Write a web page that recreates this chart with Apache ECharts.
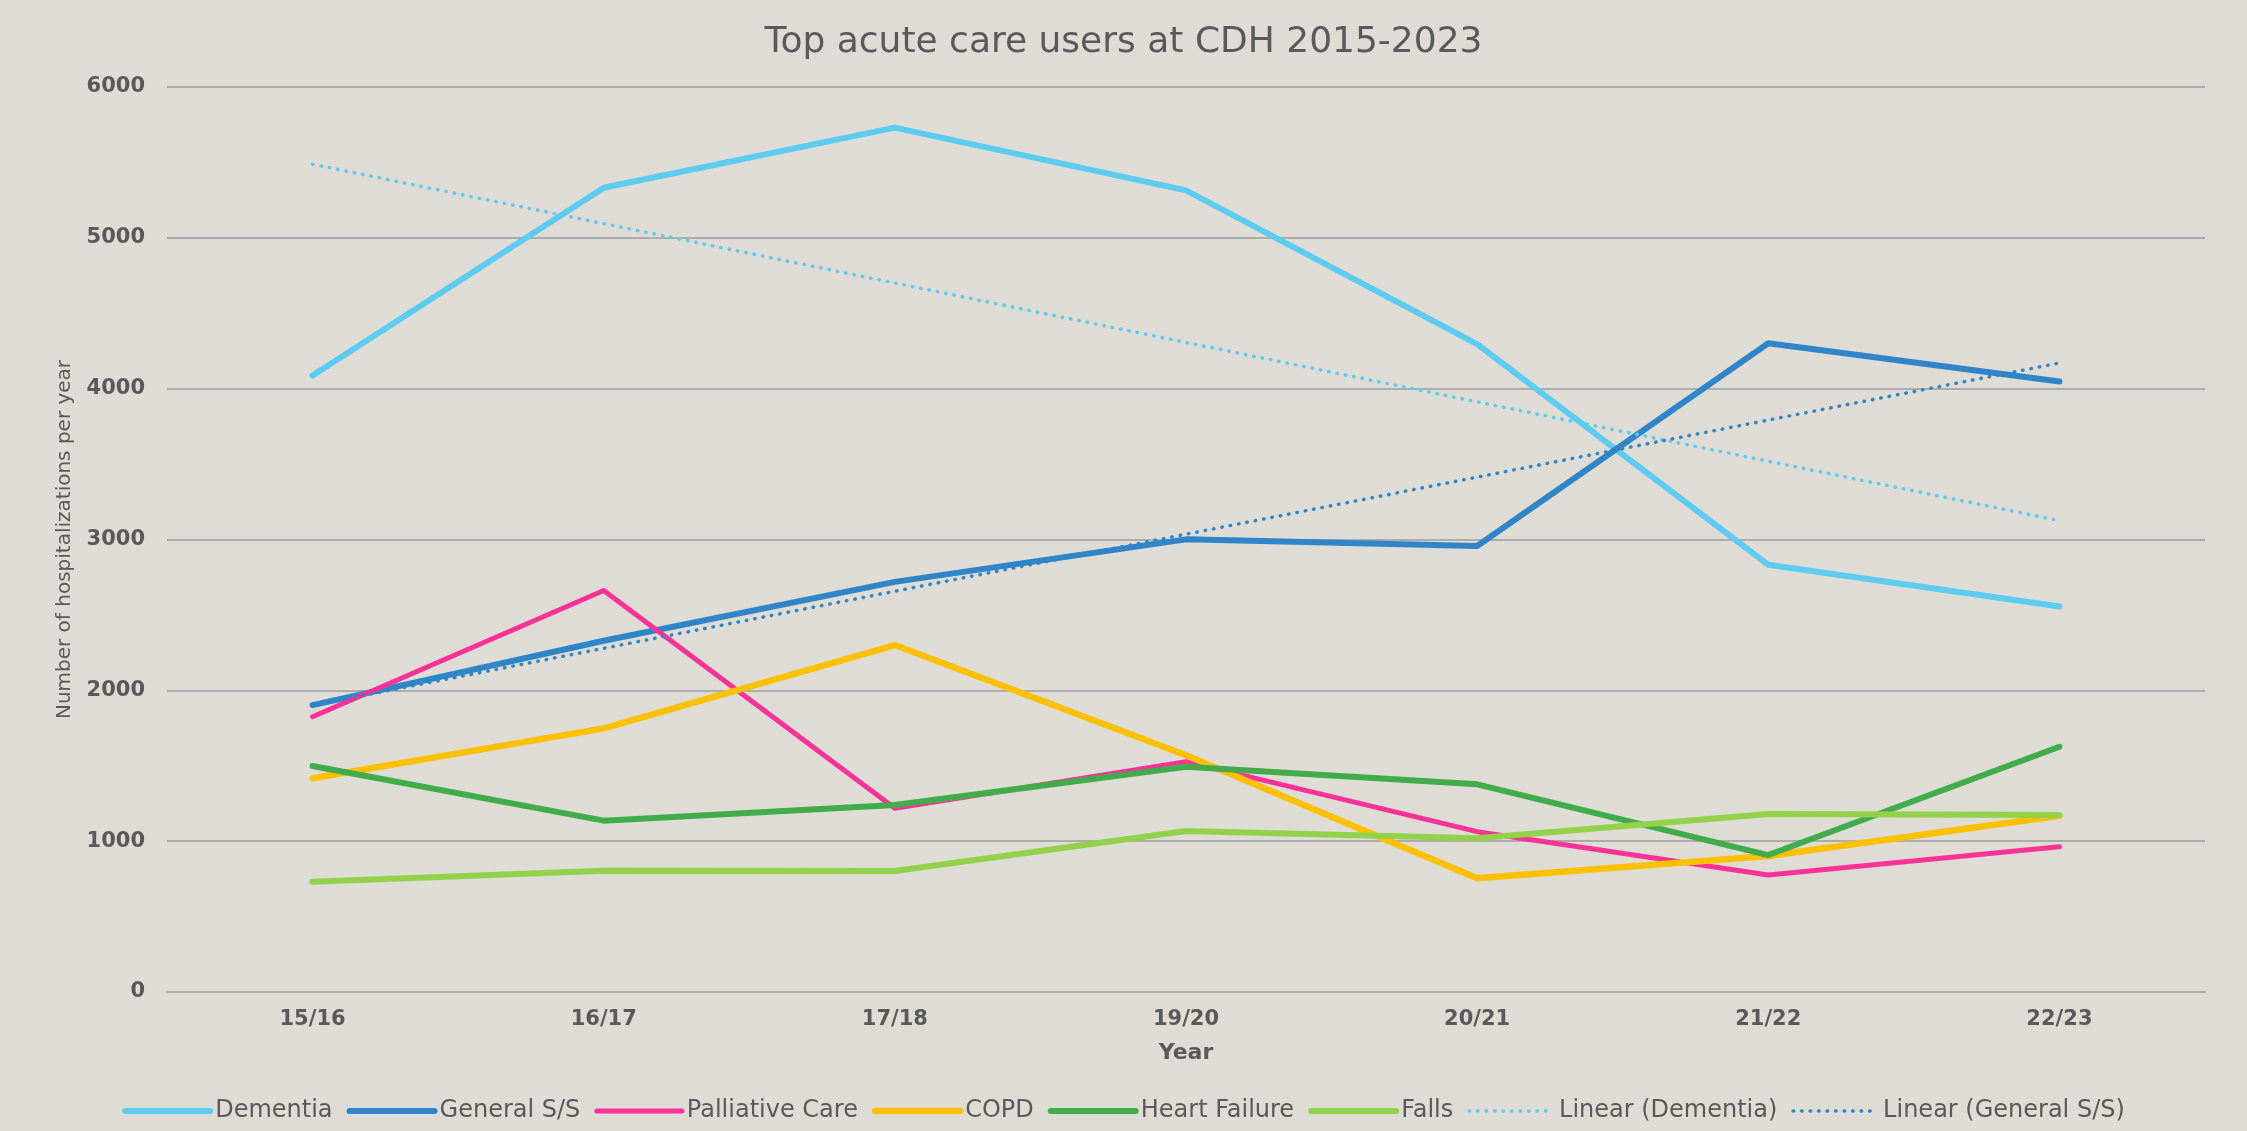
<!DOCTYPE html>
<html>
<head>
<meta charset="utf-8">
<title>Top acute care users at CDH 2015-2023</title>
<script src="https://cdn.jsdelivr.net/npm/echarts@6/dist/echarts.min.js"></script>
<style>
  html, body { margin: 0; padding: 0; background: #dfdcd5; }
  #chart { width: 2247px; height: 1131px; }
</style>
</head>
<body>
<div id="chart"></div>
<script>
// values
const years = ['15/16', '16/17', '17/18', '19/20', '20/21', '21/22', '22/23'];
const dementia = [4087, 5332, 5731, 5315, 4295, 2832, 2556];
const generalSS = [1902, 2329, 2719, 3001, 2957, 4301, 4047];
const palliative = [1825, 2662, 1218, 1527, 1063, 776, 963];
const copd = [1417, 1748, 2300, 1570, 754, 902, 1169];
const heartFailure = [1498, 1136, 1240, 1494, 1377, 908, 1626];
const falls = [731, 804, 802, 1067, 1019, 1180, 1173];
// trend lines: only the two ends are read, the line joins them
const trendDementia = [5488, null, null, null, null, null, 3125];
const trendGeneral = [1900, null, null, null, null, null, 4170];
const yTicks = [0, 1000, 2000, 3000, 4000, 5000, 6000];

const textColor = '#595959';
const font = 'DejaVu Sans';

function solid(name, data, color, width) {
  return {
    name: name,
    type: 'line',
    data: data,
    symbol: 'none',
    lineStyle: { color: color, width: width, cap: 'round', join: 'round' },
    itemStyle: { color: color },
    emphasis: { disabled: true }
  };
}

function dotted(name, data, color) {
  return {
    name: name,
    type: 'line',
    data: data,
    connectNulls: true,
    symbol: 'none',
    lineStyle: { color: color, width: 3.5, type: [0.5, 8], cap: 'round' },
    itemStyle: { color: color },
    emphasis: { disabled: true }
  };
}

const chart = echarts.init(document.getElementById('chart'));

chart.setOption({
  backgroundColor: '#dfdcd5',
  animation: false,
  title: {
    text: 'Top acute care users at CDH 2015-2023',
    left: 'center',
    top: 20,
    textStyle: { color: textColor, fontFamily: font, fontSize: 36, fontWeight: 'normal' }
  },
  legend: {
    top: 1099,
    left: 'center',
    padding: 0,
    itemWidth: 85,
    itemHeight: 14,
    itemGap: 14,
    itemStyle: { opacity: 0 },
    lineStyle: { width: 'inherit' },
    textStyle: { color: textColor, fontFamily: font, fontSize: 24 },
    data: ['Dementia', 'General S/S', 'Palliative Care', 'COPD', 'Heart Failure', 'Falls',
           'Linear (Dementia)', 'Linear (General S/S)']
  },
  grid: { left: 167, right: 42, top: 87, bottom: 139, containLabel: false },
  xAxis: {
    type: 'category',
    data: years,
    boundaryGap: true,
    name: 'Year',
    nameLocation: 'middle',
    nameGap: 50,
    nameTextStyle: { color: textColor, fontFamily: font, fontSize: 22, fontWeight: 'bold' },
    axisLine: { show: true, lineStyle: { color: '#acacac', width: 2 } },
    axisTick: { show: false },
    axisLabel: { color: textColor, fontFamily: font, fontSize: 21, fontWeight: 'bold', margin: 17 }
  },
  yAxis: {
    type: 'value',
    min: yTicks[0],
    max: yTicks[yTicks.length - 1],
    interval: 1000,
    name: 'Number of hospitalizations per year',
    nameLocation: 'middle',
    nameGap: 92,
    nameTextStyle: { color: textColor, fontFamily: font, fontSize: 20 },
    axisLine: { show: false },
    axisTick: { show: false },
    axisLabel: {
      color: textColor, fontFamily: font, fontSize: 21, fontWeight: 'bold', margin: 22,
      formatter: function (v) { return String(v); }
    },
    splitLine: { lineStyle: { color: '#acacac', width: 2 } }
  },
  series: [
    solid('Dementia', dementia, '#5ecbf1', 6),
    solid('General S/S', generalSS, '#2f85c7', 6),
    solid('Palliative Care', palliative, '#fb3399', 5),
    solid('COPD', copd, '#ffc000', 6.5),
    solid('Heart Failure', heartFailure, '#42ac4c', 6),
    solid('Falls', falls, '#92d14a', 6),
    dotted('Linear (Dementia)', trendDementia, '#5ecbf1'),
    dotted('Linear (General S/S)', trendGeneral, '#2f85c7')
  ]
});
</script>
</body>
</html>
